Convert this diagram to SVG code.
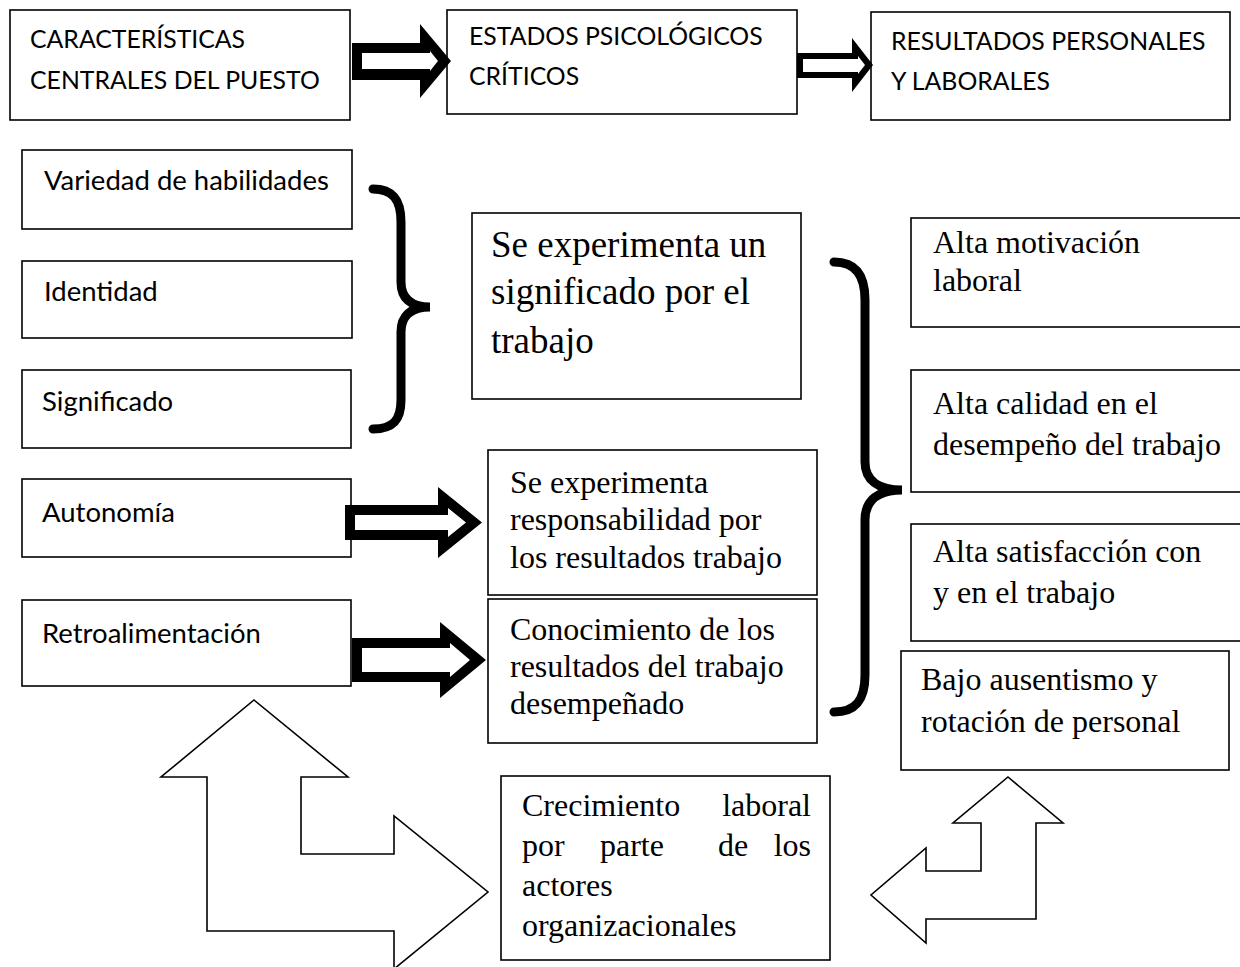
<svg xmlns="http://www.w3.org/2000/svg" width="1240" height="967" viewBox="0 0 1240 967">
<style>
.box{fill:#fff;stroke:#000;stroke-width:1.6}
.sans{font-family:Lato,"Open Sans","Liberation Sans",sans-serif;font-size:27.5px;fill:#000}
.caps{font-size:24.8px}
.serif{font-family:"Liberation Serif","Times New Roman",serif;font-size:32px;fill:#000}
.big{font-size:37px}
.blk{fill:#000;stroke:none}
.wht{fill:#fff;stroke:none}
.thin{fill:#fff;stroke:#000;stroke-width:1.6;stroke-linejoin:miter}
.brace{fill:none;stroke:#000;stroke-width:9;stroke-linecap:round}
</style>
<rect width="1240" height="967" fill="#fff"/>

<g id="node-caracteristicas">
  <rect class="box" x="10" y="10" width="340" height="110"/>
  <text class="sans caps" x="30" y="48">CARACTERÍSTICAS</text>
  <text class="sans caps" x="30" y="89">CENTRALES DEL PUESTO</text>
</g>
<g id="node-estados">
  <rect class="box" x="447" y="10" width="350" height="104"/>
  <text class="sans caps" x="469" y="45">ESTADOS PSICOLÓGICOS</text>
  <text class="sans caps" x="469" y="85">CRÍTICOS</text>
</g>
<g id="node-resultados">
  <rect class="box" x="871" y="12" width="359" height="108"/>
  <text class="sans caps" x="891" y="50">RESULTADOS PERSONALES</text>
  <text class="sans caps" x="891" y="90">Y LABORALES</text>
</g>

<g id="node-variedad">
  <rect class="box" x="22" y="150" width="330" height="79"/>
  <text class="sans" x="44" y="190">Variedad de habilidades</text>
</g>
<g id="node-identidad">
  <rect class="box" x="22" y="261" width="330" height="77"/>
  <text class="sans" x="44" y="301">Identidad</text>
</g>
<g id="node-significado">
  <rect class="box" x="22" y="370" width="329" height="78"/>
  <text class="sans" x="42" y="411">Significado</text>
</g>
<g id="node-autonomia">
  <rect class="box" x="22" y="479" width="329" height="78"/>
  <text class="sans" x="42" y="522">Autonomía</text>
</g>
<g id="node-retro">
  <rect class="box" x="22" y="600" width="329" height="86"/>
  <text class="sans" x="42" y="643">Retroalimentación</text>
</g>

<g id="node-significado-trabajo">
  <rect class="box" x="472" y="213" width="329" height="186"/>
  <text class="serif big" x="491" y="257">Se experimenta un</text>
  <text class="serif big" x="491" y="304">significado por el</text>
  <text class="serif big" x="491" y="353">trabajo</text>
</g>
<g id="node-responsabilidad">
  <rect class="box" x="488" y="450" width="329" height="145"/>
  <text class="serif" x="510" y="493">Se experimenta</text>
  <text class="serif" x="510" y="530">responsabilidad por</text>
  <text class="serif" x="510" y="568">los resultados trabajo</text>
</g>
<g id="node-conocimiento">
  <rect class="box" x="488" y="599" width="329" height="144"/>
  <text class="serif" x="510" y="640">Conocimiento de los</text>
  <text class="serif" x="510" y="677">resultados del trabajo</text>
  <text class="serif" x="510" y="714">desempeñado</text>
</g>

<g id="node-motivacion">
  <rect class="box" x="911" y="218" width="335" height="109"/>
  <text class="serif" x="933" y="253">Alta motivación</text>
  <text class="serif" x="933" y="291">laboral</text>
</g>
<g id="node-calidad">
  <rect class="box" x="911" y="370" width="335" height="122"/>
  <text class="serif" x="933" y="414">Alta calidad en el</text>
  <text class="serif" x="933" y="455">desempeño del trabajo</text>
</g>
<g id="node-satisfaccion">
  <rect class="box" x="911" y="524" width="335" height="117"/>
  <text class="serif" x="933" y="562">Alta satisfacción con</text>
  <text class="serif" x="933" y="603">y en el trabajo</text>
</g>
<g id="node-ausentismo">
  <rect class="box" x="901" y="651" width="328" height="119"/>
  <text class="serif" x="921" y="690">Bajo ausentismo y</text>
  <text class="serif" x="921" y="732">rotación de personal</text>
</g>

<g id="node-crecimiento">
  <rect class="box" x="501" y="776" width="329" height="184"/>
  <text class="serif" x="522" y="816">Crecimiento</text>
  <text class="serif" x="811" y="816" text-anchor="end">laboral</text>
  <text class="serif" x="522" y="856">por</text>
  <text class="serif" x="600" y="856">parte</text>
  <text class="serif" x="718" y="856">de</text>
  <text class="serif" x="811" y="856" text-anchor="end">los</text>
  <text class="serif" x="522" y="896">actores</text>
  <text class="serif" x="522" y="936">organizacionales</text>
</g>

<g id="connectors">
  <polygon class="blk" points="352,43 420,43 420,24 451,61 420,98 420,80 352,80"/>
  <polygon class="wht" points="362,53 430,53 430,51 438,61 430,71 430,69 362,69"/>
  <polygon class="blk" points="797,53 852,53 852,38 873,65 852,92 852,78 797,78"/>
  <polygon class="wht" points="803,59 858,59 858,56 865,65 858,74 858,72 803,72"/>
  <polygon class="blk" points="345,505 438,505 438,487 482,522.5 438,558 438,540 345,540"/>
  <polygon class="wht" points="355,515 448,515 448,508 466,522.5 448,537 448,530 355,530"/>
  <polygon class="blk" points="352,638 440,638 440,622 486,660 440,698 440,682 352,682"/>
  <polygon class="wht" points="362,648 450,648 450,643 470,660 450,677 450,672 362,672"/>
  <path class="brace" d="M373,189 C393,189 401,200 401,222 L401,282 C401,298 410,307 430,307 C410,307 401,316 401,332 L401,400 C401,420 393,429 373,429"/>
  <path class="brace" d="M834,262 C856,262 865,276 865,300 L865,462 C865,480 878,490 902,490 C878,490 865,500 865,520 L865,675 C865,700 856,712 834,712"/>
  <polygon class="thin" points="254,700 348,777 301,777 301,854 394,854 394,816 488,892 394,969 394,931 207,931 207,777 161,777"/>
  <polygon class="thin" points="1008,777 1063,823 1036,823 1036,919 926,919 926,943 871,895 926,848 926,871 981,871 981,823 953,823"/>
</g>
</svg>
